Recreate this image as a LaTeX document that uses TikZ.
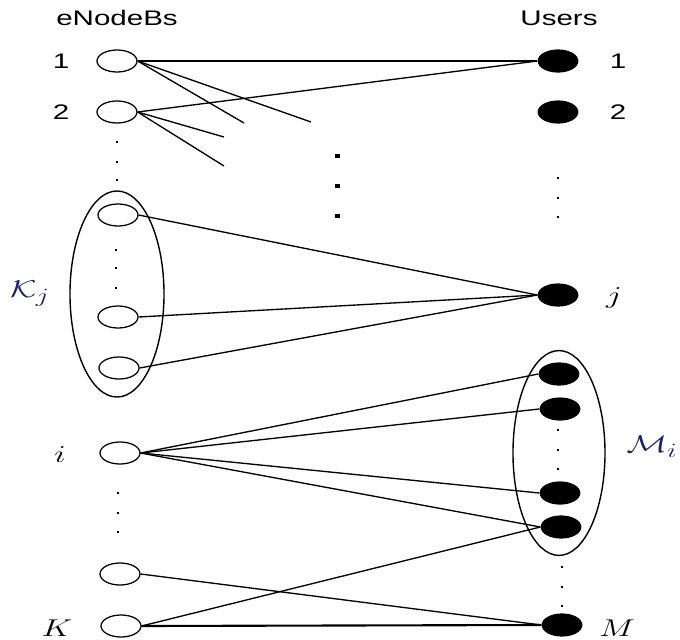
\documentclass[tikz,border=0pt]{standalone}
\usepackage{fontspec}
\setmainfont{Liberation Sans}
\usetikzlibrary{shapes.geometric}
\definecolor{setblue}{RGB}{28,36,84}
\newcommand{\wide}[1]{\scalebox{1.4}[1]{#1}}
\begin{document}
\begin{tikzpicture}[
  x=0.025cm, y=-0.025cm,
  bs/.style={ellipse, draw, line width=0.9pt, fill=white, minimum width=1cm, minimum height=0.55cm, inner sep=0pt},
  user/.style={ellipse, fill=black, minimum width=1.02cm, minimum height=0.58cm, inner sep=0pt},
  group/.style={ellipse, draw, line width=1pt, inner sep=0pt},
  label/.style={font=\fontsize{15}{17}\selectfont, inner sep=0pt},
  mlabel/.style={font=\fontsize{19}{21}\selectfont, inner sep=0pt},
  link/.style={line width=0.95pt},
  direct/.style={line width=1.5pt}
]
\useasboundingbox (0,0) rectangle (680,640);

% sets K_j and M_i
\node[group, minimum width=2.35cm, minimum height=5.15cm] (kset) at (117,294) {};
\node[group, minimum width=2.3cm, minimum height=5.12cm] (mset) at (559,453) {};

% eNodeBs
\node[bs] (b1) at (117,61) {};
\node[bs] (b2) at (117,112) {};
\node[bs] (bk1) at (118,215) {};
\node[bs] (bk2) at (118,317) {};
\node[bs] (bk3) at (119,368) {};
\node[bs] (bi) at (120,453) {};
\node[bs] (bl) at (120,574) {};
\node[bs] (bK) at (121,626) {};

% users
\node[user] (u1) at (558,61) {};
\node[user] (u2) at (558,112) {};
\node[user] (uj) at (558,295) {};
\node[user] (um1) at (559,374) {};
\node[user] (um2) at (560,409) {};
\node[user] (um3) at (560,493) {};
\node[user] (um4) at (561,527) {};
\node[user] (uM) at (562,625) {};

% headings and indices
\node[label] (hbs) at (117,18) {\wide{eNodeBs}};
\node[label] (hus) at (559,18) {\wide{Users}};
\node[label] (l1) at (61,61) {\wide{1}};
\node[label] (l2) at (61,112) {\wide{2}};
\node[label] (r1) at (618,61) {\wide{1}};
\node[label] (r2) at (618,112) {\wide{2}};
\node[mlabel, text=setblue] (lk) at (30,294) {\wide{$\mathcal{K}_j$}};
\node[mlabel] (li) at (60,455) {\wide{$i$}};
\node[mlabel] (lK) at (57,628) {\wide{$K$}};
\node[mlabel] (rj) at (614,298) {\wide{$j$}};
\node[mlabel, text=setblue] (rm) at (652,447) {\wide{$\mathcal{M}_i$}};
\node[mlabel] (rM) at (617,628) {\wide{$M$}};

% loose ends of the first two eNodeBs
\coordinate (s1) at (244,123);
\coordinate (s2) at (311,122);
\coordinate (s3) at (224,137);
\coordinate (s4) at (224,166);

% links
\draw[direct] (b1.east) -- (u1.west);
\draw[link] (b1.east) -- (s1);
\draw[link] (b1.east) -- (s2);
\draw[link] (b2.east) -- (u1.west);
\draw[link] (b2.east) -- (s3);
\draw[link] (b2.east) -- (s4);
\draw[link] (bk1.east) -- (uj.west);
\draw[link] (bk2.east) -- (uj.west);
\draw[link] (bk3.east) -- (uj.west);
\draw[link] (bi.east) -- (um1.west);
\draw[link] (bi.east) -- (um2.west);
\draw[link] (bi.east) -- (um3.west);
\draw[link] (bi.east) -- (um4.west);
\draw[link] (bl.east) -- (uM.west);
\draw[link] (bK.east) -- (um4.west);
\draw[direct] (bK.east) -- (uM.west);

% vertical dots
\foreach \x/\y in {117/142, 117/162, 117/180, 116/250, 116/268, 116/288,
                   118/493, 118/513, 118/532, 558/178, 558/198, 558/217,
                   558/430, 558/450, 558/469, 562/567, 562/587, 562/606}
  \fill (\x-1.3,\y-1.3) rectangle (\x+1.3,\y+1.3);
\foreach \y in {156,186,216}
  \fill (334.5,\y-1.6) rectangle (339.5,\y+1.6);
\end{tikzpicture}
\end{document}
